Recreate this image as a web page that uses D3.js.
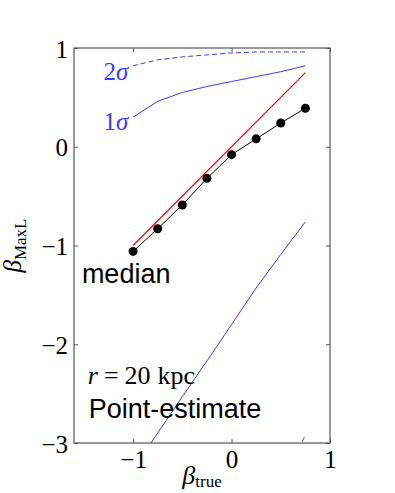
<!DOCTYPE html>
<html>
<head>
<meta charset="utf-8">
<script src="https://cdn.jsdelivr.net/npm/d3@7"></script>
<style>
  body { margin: 0; background: #fff; }
  .serif { font-family: 'Liberation Serif', serif; }
  .sans { font-family: 'Liberation Sans', Arial, sans-serif; }
</style>
</head>
<body>
<div class="container"></div>
<script>
var betaTrue = [-1, -0.75, -0.5, -0.25, 0, 0.25, 0.5, 0.75]
var median = [-1.06, -0.83, -0.59, -0.32, -0.08, 0.08, 0.24, 0.39]
var upper1 = [0.30, 0.46, 0.55, 0.61, 0.66, 0.71, 0.76, 0.82]
var upper2 = [0.82, 0.88, 0.91, 0.93, 0.95, 0.96, 0.96, 0.96]
var lower1 = [-3.26, -2.90, -2.53, -2.17, -1.80, -1.43, -1.09, -0.76]
var lower2 = [-5.0, -4.8, -4.5, -4.3, -4.0, -3.75, -3.45, -2.92]
var xTicks = [-1, 0, 1]
var yTicks = [-3, -2, -1, 0, 1]

var margin = {top: 48, left: 74}
var width = 256, height = 395
var blue = '#3b3bff'

var svg = d3.select('.container')
  .append('svg')
    .attr('width', 395)
    .attr('height', 493)

var g = svg.append('g')
  .attr('transform', 'translate(' + margin.left + ',' + margin.top + ')')

var x = d3.scaleLinear().domain([-1.6, 1]).range([0, width])
var y = d3.scaleLinear().domain([-3, 1]).range([height, 0])
var fmt = d3.format('d')

g.append('clipPath').attr('id', 'clip')
  .append('rect').attr('width', width).attr('height', height)

var plot = g.append('g').attr('clip-path', 'url(#clip)')

function series(vals) {
  return betaTrue.map(function(d, i) { return [d, vals[i]] })
}

var line = d3.line()
  .x(function(d) { return x(d[0]) })
  .y(function(d) { return y(d[1]) })

// one-to-one reference
plot.append('path')
  .datum([[-1, -1], [0.75, 0.75]])
  .attr('d', line)
  .attr('fill', 'none')
  .attr('stroke', '#ff0000')
  .attr('stroke-width', 1.2)

// sigma bands
;[[upper1, null], [lower1, null], [upper2, '5,3'], [lower2, '5,3']].forEach(function(s) {
  plot.append('path')
    .datum(series(s[0]))
    .attr('d', line)
    .attr('fill', 'none')
    .attr('stroke', blue)
    .attr('stroke-width', 1)
    .attr('stroke-dasharray', s[1])
})

plot.append('path')
  .datum(series(median))
  .attr('d', line)
  .attr('fill', 'none')
  .attr('stroke', '#000')
  .attr('stroke-width', 1)

plot.selectAll('circle')
  .data(series(median))
  .enter()
  .append('circle')
    .attr('cx', function(d) { return x(d[0]) })
    .attr('cy', function(d) { return y(d[1]) })
    .attr('r', 4.5)
    .attr('fill', '#000')

// axes
function styleAxis(sel) {
  sel.select('.domain').remove()
  sel.selectAll('.tick line').attr('stroke', '#555')
  sel.selectAll('.tick text')
    .attr('class', 'serif')
    .attr('font-size', 25)
    .attr('fill', '#000')
}

g.append('g')
  .attr('transform', 'translate(0,' + height + ')')
  .call(d3.axisBottom(x).tickValues(xTicks).tickFormat(fmt).tickSizeInner(-4).tickSizeOuter(0).tickPadding(7))
  .call(styleAxis)

g.append('g')
  .call(d3.axisTop(x).tickValues(xTicks).tickSizeInner(-4).tickSizeOuter(0).tickFormat(''))
  .call(styleAxis)

g.append('g')
  .call(d3.axisLeft(y).tickValues(yTicks).tickFormat(fmt).tickSizeInner(-4).tickSizeOuter(0).tickPadding(6))
  .call(styleAxis)
  .selectAll('.tick text').attr('dy', '0.36em')

g.append('g')
  .attr('transform', 'translate(' + width + ',0)')
  .call(d3.axisRight(y).tickValues(yTicks).tickSizeInner(-4).tickSizeOuter(0).tickFormat(''))
  .call(styleAxis)

g.append('rect')
  .attr('width', width)
  .attr('height', height)
  .attr('fill', 'none')
  .attr('stroke', '#555')
  .attr('stroke-width', 1.2)

// labels
var xl = svg.append('text')
  .attr('class', 'serif')
  .attr('x', margin.left + width / 2)
  .attr('y', 484)
  .attr('text-anchor', 'middle')
  .attr('font-size', 26)
xl.append('tspan').attr('font-style', 'italic').text('β')
xl.append('tspan').attr('font-size', 17).attr('dy', 3).text('true')

var yl = svg.append('text')
  .attr('class', 'serif')
  .attr('transform', 'translate(21,' + (margin.top + height / 2) + ') rotate(-90)')
  .attr('text-anchor', 'middle')
  .attr('font-size', 25)
yl.append('tspan').attr('font-style', 'italic').text('β')
yl.append('tspan').attr('font-size', 17).attr('dy', 5).text('MaxL')

function sigmaLabel(num, xv, yv) {
  var t = g.append('text')
    .attr('class', 'serif')
    .attr('x', x(xv))
    .attr('y', y(yv))
    .attr('font-size', 25)
    .attr('fill', blue)
  t.append('tspan').text(num)
  t.append('tspan').attr('font-style', 'italic').text('σ')
}
sigmaLabel('2', -1.3, 0.68)
sigmaLabel('1', -1.3, 0.17)

g.append('text')
  .attr('class', 'sans')
  .attr('x', x(-1.52))
  .attr('y', y(-1.38))
  .attr('font-size', 27)
  .text('median')

var rl = g.append('text')
  .attr('class', 'serif')
  .attr('x', x(-1.46))
  .attr('y', y(-2.4))
  .attr('font-size', 26)
rl.append('tspan').attr('font-style', 'italic').text('r')
rl.append('tspan').attr('dx', 6).text('=')
rl.append('tspan').attr('dx', 6).text('20')
rl.append('tspan').attr('dx', 7).text('kpc')

g.append('text')
  .attr('class', 'sans')
  .attr('x', x(-1.45))
  .attr('y', y(-2.75))
  .attr('font-size', 27)
  .text('Point-estimate')
</script>
</body>
</html>
